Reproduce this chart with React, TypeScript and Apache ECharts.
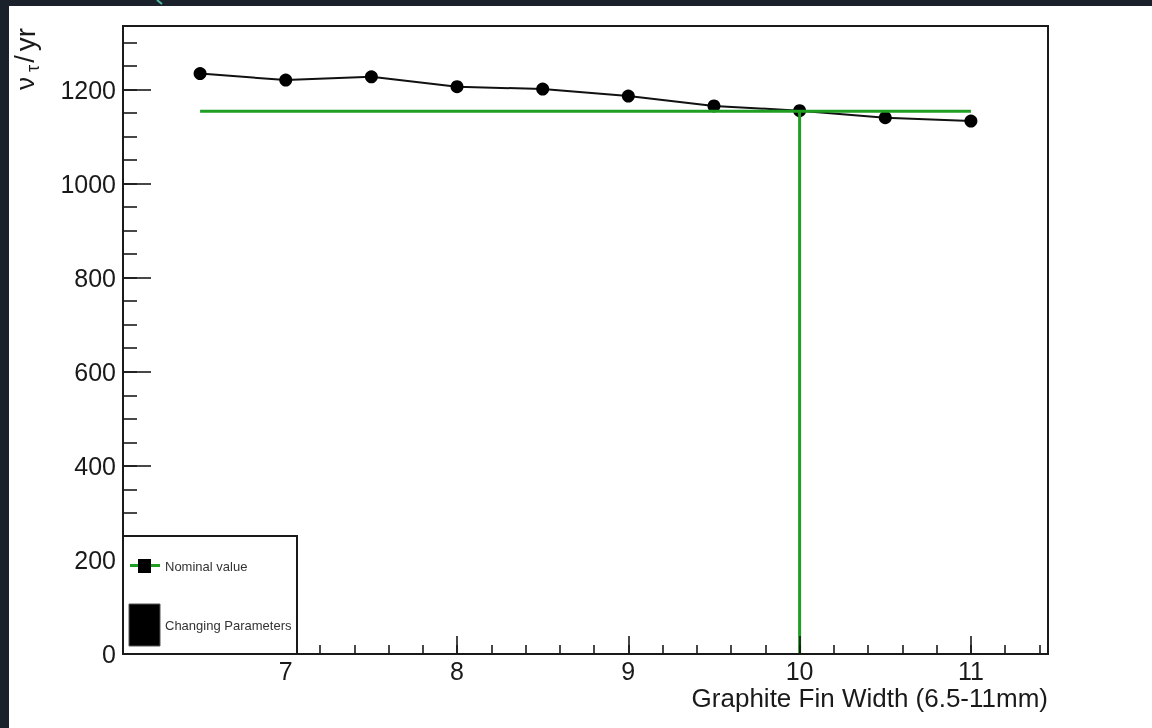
import React, { useEffect, useRef } from "react";
import * as echarts from "echarts";

// ---- data ----
const finWidths = [6.5, 7, 7.5, 8, 8.5, 9, 9.5, 10, 10.5, 11];
const tauRates = [1234, 1220, 1227, 1206, 1201, 1186, 1165, 1155, 1140, 1133];
const nominalWidth = 10;
const nominalRate = 1154;
const xRange = [6.05, 11.45];
const yRange = [0, 1335];
const xMajorTicks = [7, 8, 9, 10, 11];
const yMajorTicks = [0, 200, 400, 600, 800, 1000, 1200];
const xTitle = "Graphite Fin Width (6.5-11mm)";
const legendLabels = ["Nominal value", "Changing Parameters"];

const FONT = "Liberation Sans, Arial, Helvetica, sans-serif";
const GREEN = "#1f9e22";
const INK = "#1a1a1a";

function minorTicks(from: number, to: number, step: number): number[] {
  const out: number[] = [];
  const n = Math.round((to - from) / step);
  for (let i = 0; i <= n; i++) out.push(+(from + i * step).toFixed(4));
  return out;
}

export default function App() {
  const ref = useRef<HTMLDivElement>(null);

  useEffect(() => {
    if (!ref.current) return;
    const chart = echarts.init(ref.current, null, { renderer: "svg" });

    const xMinor = minorTicks(6.2, 11.4, 0.2);
    const yMinor = minorTicks(0, 1300, 50);

    const option: any = {
      animation: false,
      backgroundColor: "transparent",
      grid: {
        left: 123,
        top: 26,
        right: 104,
        bottom: 74,
        show: true,
        backgroundColor: "transparent",
        borderColor: INK,
        borderWidth: 2,
      },
      xAxis: [
        {
          type: "value",
          min: xRange[0],
          max: xRange[1],
          position: "bottom",
          z: 5,
          axisLine: { show: true, lineStyle: { color: INK, width: 2 } },
          axisTick: {
            show: true,
            inside: true,
            length: 18,
            customValues: xMajorTicks,
            lineStyle: { color: INK, width: 1.6 },
          },
          axisLabel: {
            show: true,
            customValues: xMajorTicks,
            margin: 7,
            lineHeight: 20,
            fontFamily: FONT,
            fontSize: 25,
            color: INK,
            formatter: (v: number) => String(v),
          },
          splitLine: { show: false },
        },
        {
          type: "value",
          min: xRange[0],
          max: xRange[1],
          position: "bottom",
          offset: 0,
          z: 5,
          axisLine: { show: false },
          axisTick: {
            show: true,
            inside: true,
            length: 9,
            customValues: xMinor,
            lineStyle: { color: INK, width: 1.6 },
          },
          axisLabel: { show: false },
          splitLine: { show: false },
        },
      ],
      yAxis: [
        {
          type: "value",
          min: yRange[0],
          max: yRange[1],
          position: "left",
          z: 5,
          axisLine: { show: true, lineStyle: { color: INK, width: 2 } },
          axisTick: {
            show: true,
            inside: true,
            length: 28,
            customValues: yMajorTicks,
            lineStyle: { color: INK, width: 1.6 },
          },
          axisLabel: {
            show: true,
            customValues: yMajorTicks,
            margin: 7,
            fontFamily: FONT,
            fontSize: 25,
            color: INK,
            formatter: (v: number) => String(v),
          },
          splitLine: { show: false },
        },
        {
          type: "value",
          min: yRange[0],
          max: yRange[1],
          position: "left",
          offset: 0,
          z: 5,
          axisLine: { show: false },
          axisTick: {
            show: true,
            inside: true,
            length: 14,
            customValues: yMinor,
            lineStyle: { color: INK, width: 1.6 },
          },
          axisLabel: { show: false },
          splitLine: { show: false },
        },
      ],
      series: [
        {
          name: legendLabels[1],
          type: "line",
          xAxisIndex: 0,
          yAxisIndex: 0,
          data: finWidths.map((x, i) => [x, tauRates[i]]),
          symbol: "circle",
          symbolSize: 13,
          itemStyle: { color: "#000000" },
          lineStyle: { color: "#111111", width: 2 },
          z: 3,
        },
        {
          name: legendLabels[0],
          type: "line",
          xAxisIndex: 0,
          yAxisIndex: 0,
          data: [
            [finWidths[0], nominalRate],
            [finWidths[finWidths.length - 1], nominalRate],
          ],
          symbol: "none",
          lineStyle: { color: GREEN, width: 3 },
          z: 4,
        },
        {
          name: legendLabels[0] + " width",
          type: "line",
          xAxisIndex: 0,
          yAxisIndex: 0,
          data: [
            [nominalWidth, yRange[0]],
            [nominalWidth, nominalRate],
          ],
          symbol: "none",
          lineStyle: { color: GREEN, width: 3 },
          z: 4,
        },
      ],
      graphic: [
        // screen background
        { type: "rect", z: -100, silent: true, shape: { x: 0, y: 0, width: 1152, height: 728 }, style: { fill: "#1b212b" } },
        { type: "rect", z: -99, silent: true, shape: { x: 9, y: 6, width: 1143, height: 722 }, style: { fill: "#ffffff" } },
        { type: "line", z: -98, silent: true, shape: { x1: 157, y1: 0, x2: 162, y2: 4 }, style: { stroke: "#4fb8a0", lineWidth: 2 } },
        // y title
        {
          type: "text",
          x: 25,
          y: 28,
          rotation: Math.PI / 2,
          z: 20,
          style: {
            text: "{a|ν}{b|τ}{c|/}{d|yr}",
            align: "right",
            verticalAlign: "middle",
            fill: INK,
            rich: {
              a: { fontFamily: FONT, fontSize: 26, fill: INK, padding: [0, 5, 0, 0] },
              b: { fontFamily: FONT, fontSize: 18, fill: INK, padding: [16, 0, 0, 0] },
              c: { fontFamily: FONT, fontSize: 27, fill: INK, padding: [0, 4, 0, 2] },
              d: { fontFamily: FONT, fontSize: 28, fill: INK },
            },
          },
        },
        // x title
        {
          type: "text",
          x: 1048,
          y: 698,
          z: 20,
          style: {
            text: xTitle,
            align: "right",
            verticalAlign: "middle",
            fontFamily: FONT,
            fontSize: 26,
            lineHeight: 20,
            fill: INK,
          },
        },
        // legend box
        {
          type: "rect",
          z: 20,
          shape: { x: 123, y: 536, width: 174, height: 118 },
          style: { fill: "#ffffff", stroke: INK, lineWidth: 2 },
        },
        {
          type: "line",
          z: 21,
          shape: { x1: 130, y1: 565.5, x2: 160, y2: 565.5 },
          style: { stroke: GREEN, lineWidth: 3 },
        },
        {
          type: "rect",
          z: 22,
          shape: { x: 138, y: 559, width: 13, height: 14 },
          style: { fill: "#000000" },
        },
        {
          type: "text",
          z: 21,
          x: 165,
          y: 566,
          style: {
            text: legendLabels[0],
            align: "left",
            verticalAlign: "middle",
            fontFamily: FONT,
            fontSize: 13,
            fill: "#333333",
          },
        },
        {
          type: "rect",
          z: 21,
          shape: { x: 129, y: 604, width: 31, height: 42 },
          style: { fill: "#000000", stroke: "#555555", lineWidth: 1 },
        },
        {
          type: "text",
          z: 21,
          x: 165,
          y: 625,
          style: {
            text: legendLabels[1],
            align: "left",
            verticalAlign: "middle",
            fontFamily: FONT,
            fontSize: 13,
            fill: "#333333",
          },
        },
      ],
    };

    chart.setOption(option);
    return () => chart.dispose();
  }, []);

  return (
    <div style={{ position: "fixed", left: 0, top: 0, width: 1152, height: 728 }}>
      <div ref={ref} style={{ width: 1152, height: 728 }} />
    </div>
  );
}
